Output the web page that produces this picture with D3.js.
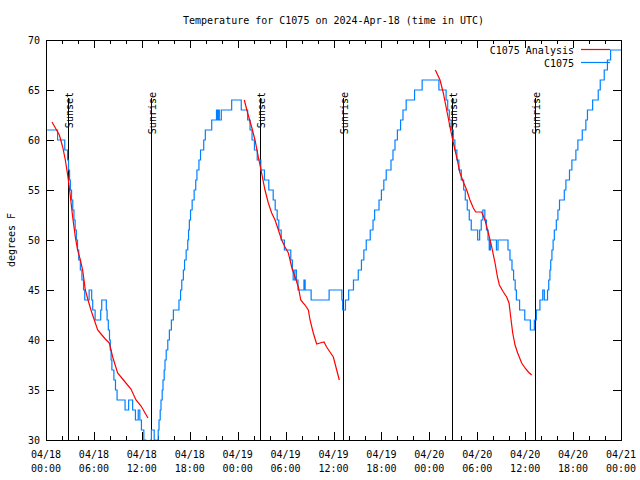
<!DOCTYPE html>
<html><head><meta charset="utf-8">
<script src="https://cdn.jsdelivr.net/npm/d3@7"></script>
<style>
body{margin:0;background:#fff}
svg text{font-family:"DejaVu Sans Mono","Liberation Mono",monospace;font-size:10px;fill:#000}
</style>
</head><body><svg id="c" width="640" height="480"></svg>
<script>
// ---- data (hours since 2024-04-18 00:00 UTC) ----
const obsHours=[0.15,1.45,2.35,2.70,2.82,2.95,3.05,3.20,3.35,3.50,3.65,3.80,3.95,4.10,4.30,4.50,4.70,4.85,5.40,5.72,5.85,6.15,6.85,6.98,7.55,7.65,7.80,7.95,8.05,8.15,8.25,8.50,8.70,8.90,9.90,10.35,10.85,11.20,11.55,11.75,11.95,12.25,12.50,13.10,13.20,13.55,13.75,13.95,14.05,14.15,14.30,14.40,14.55,14.65,14.80,14.90,15.05,15.25,15.45,15.70,15.95,16.65,16.85,17.00,17.20,17.35,17.55,17.75,17.85,17.95,18.10,18.30,18.55,18.75,18.90,19.15,19.35,19.75,19.95,20.75,21.35,21.45,21.60,21.70,21.95,23.25,24.45,25.25,25.55,25.80,26.10,26.45,26.90,27.35,27.90,28.45,28.70,28.95,29.15,29.45,29.85,30.65,30.85,30.95,31.15,31.35,31.55,32.30,32.45,33.20,35.45,37.05,37.15,37.50,37.90,38.50,39.10,39.50,39.80,40.10,40.60,40.95,41.15,41.70,42.00,42.30,42.60,43.20,43.45,43.70,44.00,44.40,44.70,45.10,46.15,47.10,49.20,50.10,50.30,50.50,50.75,51.00,51.20,51.45,51.70,52.00,52.30,52.50,52.75,53.00,53.25,54.05,54.30,54.50,54.70,54.95,55.15,55.35,55.50,55.65,56.40,56.60,57.85,58.10,58.35,58.55,58.75,58.90,59.30,59.95,60.65,61.15,61.40,61.85,62.20,62.40,62.80,62.95,63.10,63.20,63.35,63.50,63.65,63.90,64.10,64.30,64.90,65.10,65.55,65.85,66.35,66.60,67.15,67.60,67.80,68.45,69.15,69.40,69.90,70.30,70.70,72.00];
const obsTemps=[61,60,59,58,57,56,55,54,53,52,51,50,49,48,47,46,45,44,45,44,43,42,43,44,43,42,41,40,39,38,37,36,35,34,33,34,33,32,33,32,31,30,29,30,31,30,29,30,31,32,33,34,35,36,37,38,39,40,41,42,43,44,45,46,47,48,49,50,51,52,53,54,55,56,57,58,59,60,61,62,63,62,63,62,63,64,63,62,61,60,59,58,57,56,55,54,53,52,51,50,49,48,47,46,47,46,45,46,45,44,45,44,43,44,45,46,47,48,49,50,51,52,53,54,55,56,57,58,59,60,61,62,63,64,65,66,65,64,63,62,61,60,59,58,57,56,55,54,53,52,51,50,51,52,53,52,51,50,49,50,49,50,49,48,47,46,45,44,43,42,41,42,43,44,45,44,45,46,47,48,49,50,51,52,53,54,55,56,57,58,59,60,61,62,63,64,65,66,67,68,69,69];

const anaHours=[0.75,1.25,1.67,2.09,2.42,2.75,3.00,3.34,3.67,3.96,4.30,4.59,4.92,5.26,5.63,6.05,6.47,6.89,7.43,7.93,8.35,8.97,9.80,10.64,11.27,11.90,12.77,null,
24.83,25.25,25.75,26.17,26.59,27.00,27.42,27.84,28.26,28.68,29.10,29.51,29.93,30.35,30.76,31.18,31.60,31.90,32.43,32.85,33.06,33.47,33.89,34.31,34.81,35.14,35.56,35.98,36.40,36.73,null,
48.75,49.34,49.75,50.17,50.59,51.01,51.42,51.84,52.26,52.68,53.09,53.51,53.81,54.55,54.97,55.39,55.81,56.23,56.53,56.77,57.27,57.68,57.98,58.19,58.44,58.73,59.06,59.56,59.98,60.40,60.81];
const anaTemps=[61.8,61.1,60.5,59.3,58.0,56.3,54.7,52.3,50.3,49.0,48.0,47.0,45.0,44.0,43.0,42.0,41.0,40.6,40.1,39.7,38.3,36.7,35.9,35.1,34.0,33.4,32.2,null,
64.0,62.7,61.3,60.0,58.3,56.7,55.0,53.7,52.7,52.0,51.0,50.0,49.3,48.7,47.3,46.3,45.3,44.0,43.5,43.0,42.0,40.7,39.6,39.7,39.8,39.3,38.8,38.3,37.0,36.0,null,
67.0,66.0,64.7,63.0,61.3,59.7,58.3,56.7,55.8,55.0,54.0,53.2,52.8,52.8,52.0,50.7,49.3,47.7,46.3,45.5,44.8,44.3,43.7,42.3,40.7,39.5,38.7,37.7,37.2,36.8,36.5];

const sunHours=[2.78,13.20,26.79,37.20,50.80,61.17];
const sunLabels=["Sunset","Sunrise","Sunset","Sunrise","Sunset","Sunrise"];
const yTickValues=[30,35,40,45,50,55,60,65,70];
const majorTickHours=[0,6,12,18,24,30,36,42,48,54,60,66,72];
const seriesNames=["C1075 Analysis","C1075"];
const seriesColors=["#ff0000","#0080ff"];
const titleText="Temperature for C1075 on 2024-Apr-18 (time in UTC)";

// ---- layout ----
const L=46,R=621,T=40,B=440;
const t0=Date.UTC(2024,3,18,0,0);
const toDate=h=>new Date(t0+h*3600e3);
const svg=d3.select("#c");
const x=d3.scaleUtc().domain([toDate(0),toDate(72)]).range([L,R]);
const y=d3.scaleLinear().domain([30,70]).range([B,T]);
const fmtD=d3.utcFormat("%m/%d"), fmtT=d3.utcFormat("%H:%M");

svg.append("defs").append("clipPath").attr("id","clip")
  .append("rect").attr("x",L).attr("y",T).attr("width",R-L).attr("height",B-T);

const minorHours=d3.range(0,73,2).filter(h=>h%6!==0);

function styleAxis(g){g.select(".domain").remove();g.selectAll("line").attr("stroke","#000").attr("shape-rendering","crispEdges");}
// bottom axis ticks (inward)
svg.append("g").attr("transform",`translate(0,${B})`)
  .call(d3.axisBottom(x).tickValues(majorTickHours.map(toDate)).tickSize(-8).tickFormat(""))
  .call(styleAxis);
svg.append("g").attr("transform",`translate(0,${B})`)
  .call(d3.axisBottom(x).tickValues(minorHours.map(toDate)).tickSize(-4).tickFormat(""))
  .call(styleAxis);
// top mirrored
svg.append("g").attr("transform",`translate(0,${T})`)
  .call(d3.axisTop(x).tickValues(majorTickHours.map(toDate)).tickSize(-8).tickFormat(""))
  .call(styleAxis);
svg.append("g").attr("transform",`translate(0,${T})`)
  .call(d3.axisTop(x).tickValues(minorHours.map(toDate)).tickSize(-4).tickFormat(""))
  .call(styleAxis);
// left / right
svg.append("g").attr("transform",`translate(${L},0)`)
  .call(d3.axisLeft(y).tickValues(yTickValues).tickSize(-8).tickFormat(""))
  .call(styleAxis);
svg.append("g").attr("transform",`translate(${R},0)`)
  .call(d3.axisRight(y).tickValues(yTickValues).tickSize(-8).tickFormat(""))
  .call(styleAxis);

// tick labels
const xl=svg.append("g");
majorTickHours.forEach(h=>{
  const d=toDate(h);
  xl.append("text").attr("x",x(d)).attr("y",458).attr("text-anchor","middle").text(fmtD(d));
  xl.append("text").attr("x",x(d)).attr("y",472).attr("text-anchor","middle").text(fmtT(d));
});
svg.append("g").selectAll("text").data(yTickValues).join("text")
  .attr("x",40).attr("y",v=>y(v)+3.5).attr("text-anchor","end").text(v=>v);

// border
svg.append("rect").attr("x",L).attr("y",T).attr("width",R-L).attr("height",B-T)
  .attr("fill","none").attr("stroke","#000").attr("shape-rendering","crispEdges");

// sun lines
const sun=svg.append("g");
sunHours.forEach((h,i)=>{
  const xx=Math.round(x(toDate(h)))+0.5;
  sun.append("line").attr("x1",xx).attr("x2",xx).attr("y1",98).attr("y2",B)
    .attr("stroke","#000").attr("shape-rendering","crispEdges");
  sun.append("text").attr("transform",`translate(${xx+4},92) rotate(-90)`)
    .attr("text-anchor","end").text(sunLabels[i]);
});

// series
const plot=svg.append("g").attr("clip-path","url(#clip)");
const obs=obsHours.map((h,i)=>[toDate(h),obsTemps[i]]);
plot.append("path").datum(obs).attr("fill","none").attr("stroke",seriesColors[1]).attr("stroke-width",1.2)
  .attr("d",d3.line().x(d=>x(d[0])).y(d=>y(d[1])).curve(d3.curveStepAfter));
const ana=anaHours.map((h,i)=>[h==null?null:toDate(h),anaTemps[i]]);
plot.append("path").datum(ana).attr("fill","none").attr("stroke",seriesColors[0]).attr("stroke-width",1.2)
  .attr("d",d3.line().defined(d=>d[0]!=null).x(d=>x(d[0])).y(d=>y(d[1])));

// legend
seriesNames.forEach((n,i)=>{
  const yy=50+i*13;
  svg.append("text").attr("x",574).attr("y",yy+3.5).attr("text-anchor","end").text(n);
  svg.append("line").attr("x1",581).attr("x2",610).attr("y1",yy-0.5).attr("y2",yy-0.5)
    .attr("stroke",seriesColors[i]).attr("stroke-width",1.2);
});

// title and y label
svg.append("text").attr("x",(L+R)/2).attr("y",24).attr("text-anchor","middle").text(titleText);
svg.append("text").attr("transform","translate(15,240) rotate(-90)").attr("text-anchor","middle").text("degrees F");
</script>
</body></html>
